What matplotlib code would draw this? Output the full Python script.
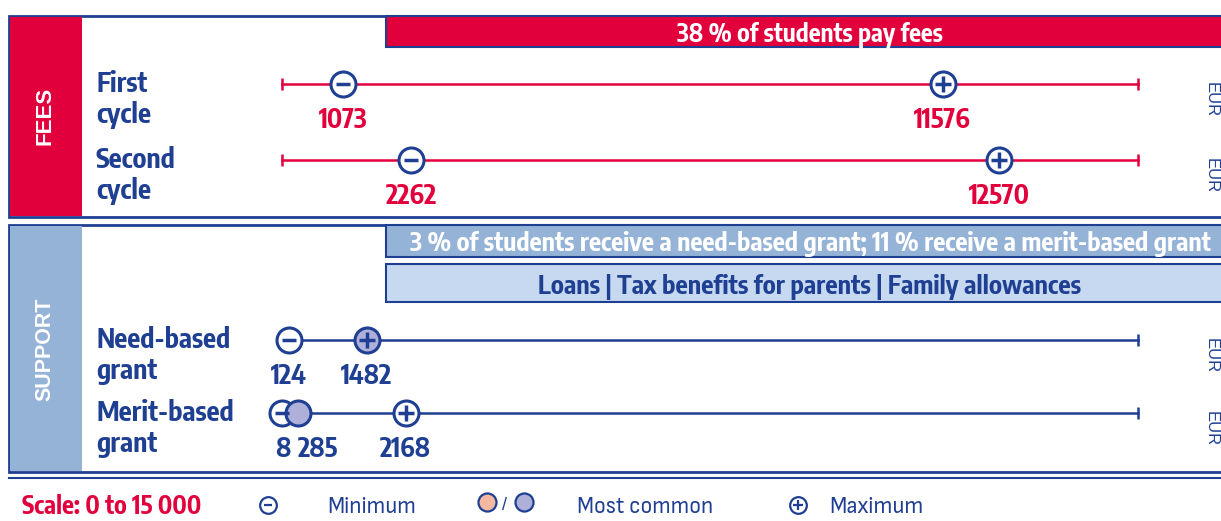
import matplotlib.pyplot as plt
from matplotlib.patches import Rectangle
from matplotlib import font_manager
from matplotlib.font_manager import FontProperties
from matplotlib.textpath import TextPath

# data
rows = ["First\ncycle", "Second\ncycle", "Need-based\ngrant", "Merit-based\ngrant"]
minimum = [1073, 2262, 124, 8]
maximum = [11576, 12570, 1482, 2168]
most_common = [None, None, 1482, 285]
scale_max = 15000
fees_note = "38 % of students pay fees"
grant_note = "3 % of students receive a need-based grant; 11 % receive a merit-based grant"
other_note = "Loans | Tax benefits for parents | Family allowances"

# colours
BLUE = "#1f3f93"
RED = "#e2003c"
LBLUE = "#95b3d7"
PALE = "#c6d9f1"
LAV = "#aeb0da"
SALMON = "#f4b9a0"

PX = 100 / 72  # px per pt


def weight_of(f):
    if isinstance(f.weight, int):
        return f.weight
    return font_manager.weight_dict.get(f.weight, 400)


def extents(s, fp):
    return TextPath((0, 0), s, size=1, prop=fp).get_extents()


def pick(weight, sample, aspect, fallback):
    # narrow face whose width / cap height is closest to the reference
    best, best_d = fallback, None
    for f in font_manager.fontManager.ttflist:
        s = (str(f.stretch) + " " + f.fname).lower()
        if "condensed" not in s and "narrow" not in s:
            continue
        if f.style != "normal" or abs(weight_of(f) - weight) > 100:
            continue
        try:
            fp = FontProperties(fname=f.fname)
            a = extents(sample, fp).width / extents("H", fp).height
        except Exception:
            continue
        d = abs(a - aspect)
        if best_d is None or d < best_d:
            best, best_d = fp, d
    return best


BOLD = pick(700, "Second", 78 / 20, FontProperties(family="Liberation Sans", weight="bold"))
REG = pick(400, "Minimum", 86 / 15, FontProperties(family="Liberation Sans"))


def size_for(s, fp, width):
    return width / extents(s, fp).width / PX


fig = plt.figure(figsize=(12.21, 5.21), dpi=100)
bg = fig.add_axes([0, 0, 1, 1])
bg.set_xlim(0, 1221)
bg.set_ylim(521, 0)
bg.axis("off")


def btext(x, y, s, width, color, fp=BOLD, **kw):
    return bg.text(x, y + 2, s, color=color, fontproperties=fp,
                   fontsize=size_for(s, fp, width), **kw)


# panels
bg.add_patch(Rectangle((9, 16), 1230, 201, fc="white", ec=BLUE, lw=2))
bg.add_patch(Rectangle((10, 17), 72, 199, fc=RED, ec="none"))
bg.add_patch(Rectangle((386, 16), 850, 31, fc=RED, ec=BLUE, lw=1.5))
btext(810, 33, fees_note, 266, "white", ha="center", va="center")
bg.text(45, 116, "FEES", family="Liberation Sans", color="white", fontsize=16,
        fontweight="bold", rotation=90, ha="center", va="center")

bg.add_patch(Rectangle((9, 225), 1230, 247, fc="white", ec=BLUE, lw=2))
bg.add_patch(Rectangle((10, 226), 72, 245, fc=LBLUE, ec="none"))
bg.add_patch(Rectangle((386, 225), 850, 32, fc=LBLUE, ec=BLUE, lw=1.5))
btext(810, 242, grant_note, 803, "white", ha="center", va="center")
bg.add_patch(Rectangle((386, 264), 850, 38, fc=PALE, ec=BLUE, lw=1.5))
btext(810, 285, other_note, 541, BLUE, ha="center", va="center")
bg.text(45, 349, "SUPPORT", family="Liberation Sans", color="white", fontsize=15.5,
        fontweight="bold", rotation=90, ha="center", va="center")
bg.plot([9, 1221], [478, 478], color=BLUE, lw=1.5)

# rows
row_y = [84, 160, 340, 413]
line_col = [RED, RED, BLUE, BLUE]
lab_size = size_for("Second", BOLD, 78)
num_size = size_for("11576", BOLD, 56)

ax = fig.add_axes([282 / 1221, 0, 856 / 1221, 1])
ax.set_xlim(0, scale_max)
ax.set_ylim(521, 0)
ax.axis("off")


def circle(x, y, fill, sign=None):
    ax.plot(x, y, marker="o", ms=18, mfc=fill, mec=BLUE, mew=2.2, zorder=4, clip_on=False)
    if sign == "-":
        ax.plot(x, y, marker="_", ms=10, mec=BLUE, mew=2.5, zorder=5, clip_on=False)
    elif sign == "+":
        ax.plot(x, y, marker="+", ms=11, mec=BLUE, mew=2.5, zorder=5, clip_on=False)


def number(v, y, color, dx=0):
    ax.annotate(str(v), (v, y), xytext=(dx, -26), textcoords="offset points",
                color=color, fontproperties=BOLD, fontsize=num_size,
                ha="center", va="center", annotation_clip=False)


for i, label in enumerate(rows):
    y = row_y[i]
    c = line_col[i]
    ax.plot([0, scale_max], [y, y], color=c, lw=1.8, zorder=2, clip_on=False)
    ax.plot([0, scale_max], [y, y], ls="none", marker="|", ms=9, mew=1.8,
            color=c, zorder=2, clip_on=False)
    first, second = label.split("\n")
    bg.text(96, y, first, color=BLUE, fontproperties=BOLD, fontsize=lab_size,
            ha="left", va="center")
    bg.text(96, y + 31, second, color=BLUE, fontproperties=BOLD, fontsize=lab_size,
            ha="left", va="center")
    bg.text(1211, y + 16, "EUR", family="Liberation Sans", color=BLUE, fontsize=12,
            rotation=-90, ha="center", va="center")

    circle(minimum[i], y, "white", "-")
    mc = most_common[i]
    if mc is not None and mc != maximum[i]:
        circle(mc, y, LAV)
    circle(maximum[i], y, LAV if mc == maximum[i] else "white", "+")

    number(minimum[i], y, c)
    number(maximum[i], y, c)
    if mc is not None and mc != maximum[i]:
        number(mc, y, c, dx=14)

# legend row
ly = 505
btext(22, ly, "Scale: 0 to 15 000", 178, RED, ha="left", va="center")
bg.plot(268, ly, marker="o", ms=12, mfc="white", mec=BLUE, mew=1.6)
bg.plot(268, ly, marker="_", ms=6, mec=BLUE, mew=1.6)
btext(327, ly, "Minimum", 86, BLUE, fp=REG, ha="left", va="center")
bg.plot(487, ly - 3, marker="o", ms=13, mfc=SALMON, mec=BLUE, mew=1.6)
bg.text(505, ly, "/", color=BLUE, fontsize=13, family="Liberation Sans",
        ha="center", va="center")
bg.plot(524, ly - 3, marker="o", ms=13, mfc=LAV, mec=BLUE, mew=1.6)
btext(577, ly, "Most common", 133, BLUE, fp=REG, ha="left", va="center")
bg.plot(798, ly, marker="o", ms=12, mfc="white", mec=BLUE, mew=1.6)
bg.plot(798, ly, marker="+", ms=7, mec=BLUE, mew=1.6)
btext(829, ly, "Maximum", 91, BLUE, fp=REG, ha="left", va="center")

plt.savefig("out.png", dpi=100)
